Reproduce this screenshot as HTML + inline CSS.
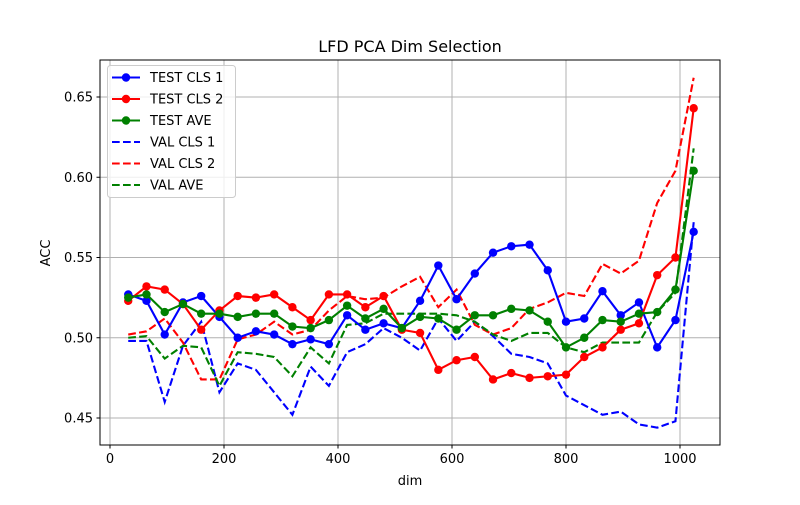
<!DOCTYPE html>
<html><head><meta charset="utf-8"><style>body{margin:0;background:#fff}svg{font-family:"DejaVu Sans","Liberation Sans",sans-serif}</style></head>
<body>
<svg id="c" width="800" height="500"></svg>
<script>
const dims=[];for(let i=1;i<=32;i++)dims.push(i*32);
const testCls1=[0.527,0.523,0.502,0.522,0.526,0.513,0.500,0.504,0.502,0.496,0.499,0.496,0.514,0.505,0.509,0.506,0.523,0.545,0.524,0.540,0.553,0.557,0.558,0.542,0.510,0.512,0.529,0.514,0.522,0.494,0.511,0.566];
const testCls2=[0.523,0.532,0.530,0.521,0.505,0.517,0.526,0.525,0.527,0.519,0.511,0.527,0.527,0.519,0.526,0.505,0.503,0.480,0.486,0.488,0.474,0.478,0.475,0.476,0.477,0.488,0.494,0.505,0.509,0.539,0.550,0.643];
const testAve=[0.525,0.527,0.516,0.521,0.515,0.515,0.513,0.515,0.515,0.507,0.506,0.511,0.520,0.512,0.518,0.506,0.513,0.512,0.505,0.514,0.514,0.518,0.517,0.510,0.494,0.500,0.511,0.510,0.515,0.516,0.530,0.604];
const valCls1=[0.498,0.498,0.460,0.495,0.510,0.466,0.484,0.480,0.466,0.452,0.482,0.470,0.491,0.496,0.506,0.500,0.492,0.512,0.498,0.510,0.501,0.490,0.488,0.484,0.464,0.458,0.452,0.454,0.446,0.444,0.448,0.572];
const valCls2=[0.502,0.504,0.512,0.497,0.474,0.474,0.499,0.502,0.510,0.502,0.505,0.517,0.526,0.524,0.525,0.532,0.538,0.519,0.530,0.508,0.502,0.506,0.518,0.522,0.528,0.526,0.546,0.540,0.548,0.584,0.604,0.662];
const valAve=[0.500,0.501,0.487,0.495,0.494,0.470,0.491,0.490,0.488,0.476,0.494,0.484,0.508,0.509,0.515,0.515,0.515,0.515,0.514,0.510,0.502,0.498,0.503,0.503,0.494,0.491,0.497,0.497,0.497,0.516,0.528,0.618];
const xTicks=[0,200,400,600,800,1000];
const yTicks=[0.45,0.50,0.55,0.60,0.65];
const L=100,R=720,T=60,B=445;
const X=v=>110+v*0.57;
const Y=v=>97+(0.65-v)*1605;
const svg=document.getElementById('c');const NS='http://www.w3.org/2000/svg';
function mk(t,a,p){const e=document.createElementNS(NS,t);for(const k in a)e.setAttribute(k,a[k]);(p||svg).appendChild(e);return e;}
xTicks.forEach(t=>{
 const g=mk('line',{x1:X(t),x2:X(t),y1:T,y2:B,stroke:'#b0b0b0','stroke-width':1});
 
 
 mk('line',{x1:X(t),x2:X(t),y1:B,y2:B+3.5,stroke:'#000'});
 const tx=mk('text',{x:X(t),y:B+18,'text-anchor':'middle','font-size':13});tx.textContent=t;
 
 
});
yTicks.forEach(t=>{
 const g=mk('line',{x1:L,x2:R,y1:Y(t),y2:Y(t),stroke:'#b0b0b0','stroke-width':1});
 
 
 mk('line',{x1:L-3.5,x2:L,y1:Y(t),y2:Y(t),stroke:'#000'});
 const tx=mk('text',{x:L-7,y:Y(t)+4.5,'text-anchor':'end','font-size':13});tx.textContent=t.toFixed(2);
 
 
});
const series=[
 {d:valCls1,c:'#0000ff',dash:true,n:'val-cls1-line'},
 {d:valCls2,c:'#ff0000',dash:true,n:'val-cls2-line'},
 {d:valAve,c:'#008000',dash:true,n:'val-ave-line'},
 {d:testCls1,c:'#0000ff',dash:false,n:'test-cls1-line'},
 {d:testCls2,c:'#ff0000',dash:false,n:'test-cls2-line'},
 {d:testAve,c:'#008000',dash:false,n:'test-ave-line'}];
series.forEach(s=>{
 const p=mk('polyline',{points:s.d.map((v,i)=>X(dims[i])+','+Y(v)).join(' '),fill:'none',stroke:s.c,'stroke-width':2.1,'stroke-dasharray':s.dash?'7.7,3.3':'none'});
 
 
 if(!s.dash)s.d.forEach((v,i)=>{const c=mk('circle',{cx:X(dims[i]),cy:Y(v),r:4.2,fill:s.c});
  
  });
});
const fr=mk('rect',{x:L,y:T,width:R-L,height:B-T,fill:'none',stroke:'#000','stroke-width':1});


const ti=mk('text',{x:410,y:52,'text-anchor':'middle','font-size':16});ti.textContent='LFD PCA Dim Selection';


const xl=mk('text',{x:410,y:485,'text-anchor':'middle','font-size':13});xl.textContent='dim';


const yl=mk('text',{x:50,y:253,'text-anchor':'middle','font-size':13,transform:'rotate(-90 50 253)'});yl.textContent='ACC';


const lg=mk('g',{});


mk('rect',{x:107.5,y:65.5,width:128,height:132,rx:3,fill:'#fff','fill-opacity':0.8,stroke:'#ccc'},lg);
const leg=[['TEST CLS 1','#0000ff',0],['TEST CLS 2','#ff0000',0],['TEST AVE','#008000',0],['VAL CLS 1','#0000ff',1],['VAL CLS 2','#ff0000',1],['VAL AVE','#008000',1]];
leg.forEach((e,i)=>{const y=77.5+i*21.5;
 mk('line',{x1:112,x2:140,y1:y,y2:y,stroke:e[1],'stroke-width':2.1,'stroke-dasharray':e[2]?'7.7,3.3':'none'},lg);
 if(!e[2])mk('circle',{cx:126,cy:y,r:4.2,fill:e[1]},lg);
 const t=mk('text',{x:150,y:y+4.5,'font-size':13},lg);t.textContent=e[0];
 
 
});
</script>
</body></html>
